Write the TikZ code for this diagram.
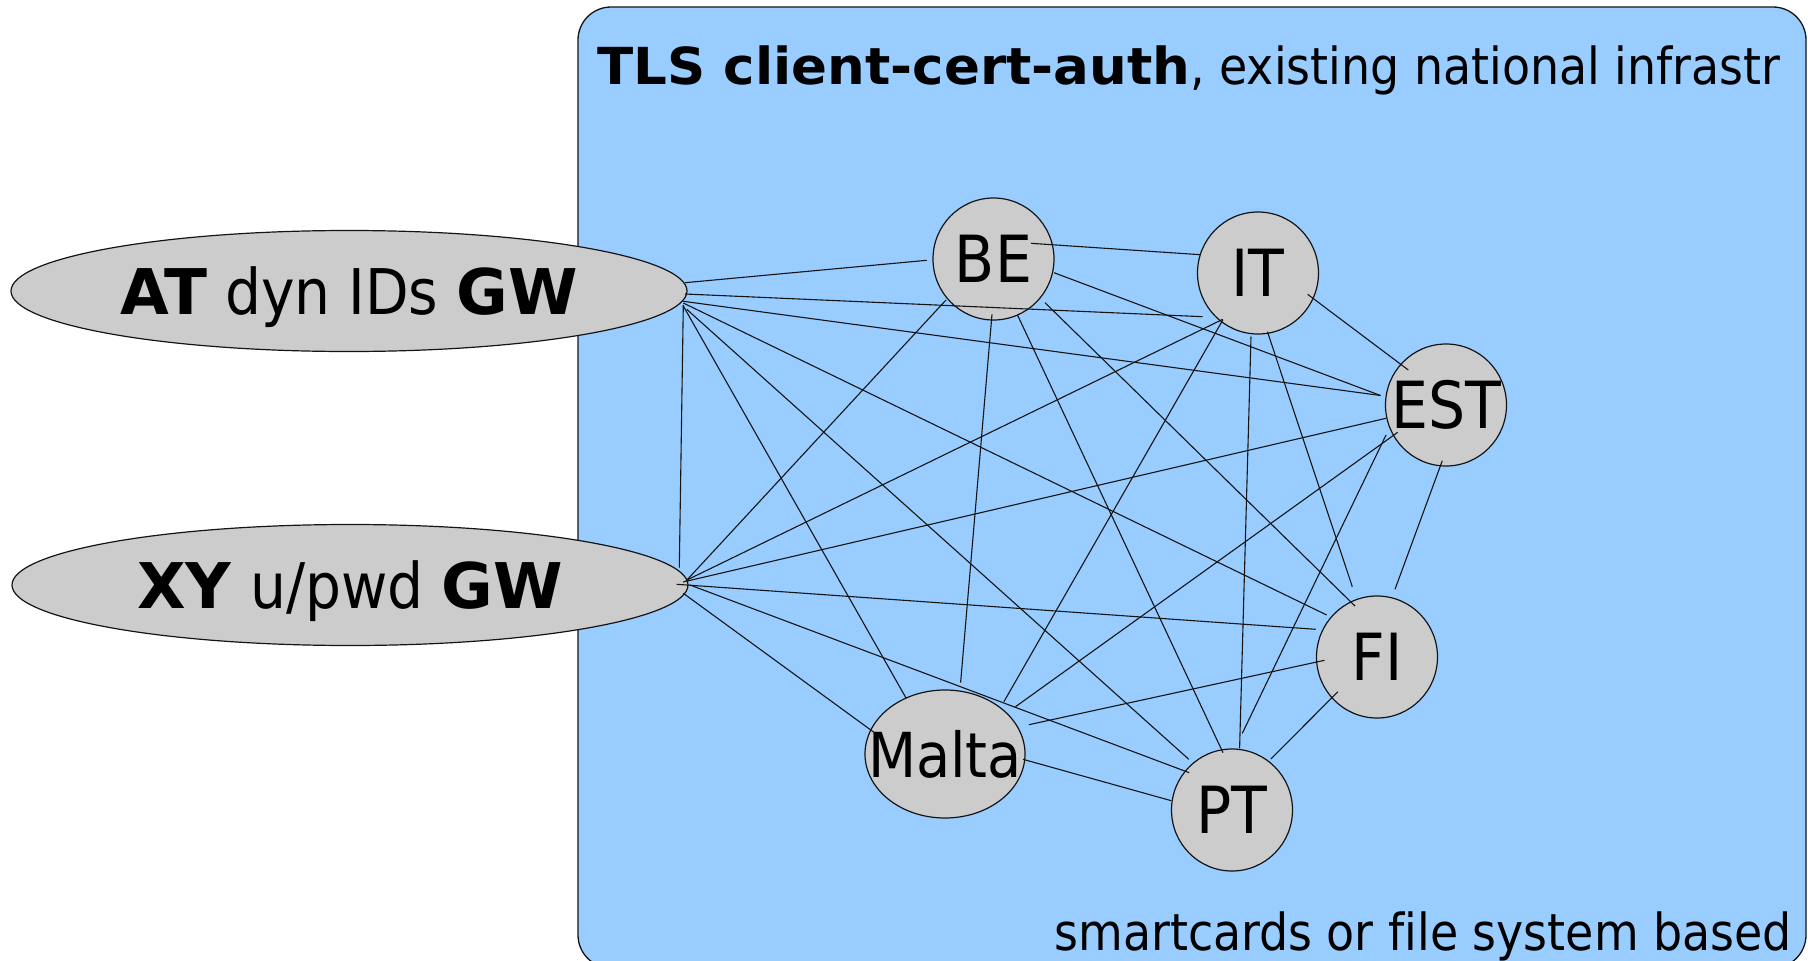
\documentclass[tikz,border=0pt]{standalone}
\usepackage{fontspec}
\setmainfont{DejaVu Sans Condensed}[BoldFont={DejaVu Sans Bold}, Ligatures=NoCommon]
\newfontfamily\titlebf{DejaVu Sans Bold}[FakeStretch=1.04]
\usetikzlibrary{shapes.geometric}
\definecolor{paneblue}{RGB}{153,204,255}
\definecolor{nodegray}{RGB}{204,204,204}
\definecolor{inkline}{RGB}{20,20,20}
% label of zero width, so the ellipse keeps its given size
\newcommand{\lbl}[1]{\makebox[0pt][c]{#1}}
\begin{document}
\begin{tikzpicture}[x=1pt,y=-1pt,
  pane/.style={draw=inkline, line width=1.3pt, fill=paneblue, rounded corners=33pt},
  gw/.style={ellipse, draw=inkline, line width=1.2pt, fill=nodegray,
    minimum width=676pt, minimum height=121pt, inner sep=0pt,
    text height=47pt, text depth=0pt, font=\fontsize{63}{70}\selectfont},
  land/.style={ellipse, draw=inkline, line width=1.2pt, fill=nodegray,
    minimum width=121pt, minimum height=122pt, inner sep=0pt,
    text height=47pt, text depth=0pt, font=\fontsize{65}{70}\selectfont},
  caption/.style={inner sep=0pt, font=\fontsize{51}{60}\selectfont},
  link/.style={draw=inkline, line width=1.1pt}]
\useasboundingbox (0,0) rectangle (1808,961);

% trust domain pane
\path[pane] (578,7) rectangle (1806,968);
\node[caption, anchor=base west] (title) at (597,84)
  {{\titlebf TLS client-cert-auth}, existing national infrastr};
\node[caption, anchor=base east] (foot) at (1792,950)
  {smartcards or file system based};

% gateways
\node[gw] (AT) at (349,291) {\lbl{\textbf{AT} dyn IDs \textbf{GW}}};
\node[gw] (XY) at (350,585) {\lbl{\textbf{XY} u/pwd \textbf{GW}}};

% national nodes
\node[land] (BE)  at (993.5,259) {\lbl{BE}};
\node[land] (IT)  at (1258,273) {\lbl{IT}};
\node[land] (EST) at (1446,405) {\lbl{EST}};
\node[land] (FI)  at (1377,657) {\lbl{FI}};
\node[land] (PT)  at (1232,810) {\lbl{PT}};
\node[land, minimum width=160pt, minimum height=128pt,
  font=\fontsize{62}{70}\selectfont] (Malta) at (945,754) {\lbl{Malta}};

% full mesh of links
\draw[link] ([shift={(336,-8.3)}]AT.center) -- ([shift={(-66.7,1.3)}]BE.center);
\draw[link] ([shift={(336,3)}]AT.center) -- ([shift={(-55.3,43.7)}]IT.center);
\draw[link] ([shift={(334.3,10.3)}]AT.center) -- ([shift={(-65.5,-9.5)}]EST.center);
\draw[link] ([shift={(334.3,12)}]AT.center) -- ([shift={(-50.3,-42)}]FI.center);
\draw[link] ([shift={(337.7,18.3)}]AT.center) -- ([shift={(-43.2,-50.7)}]PT.center);
\draw[link] ([shift={(334.3,15)}]AT.center) -- ([shift={(-38.8,-55.7)}]Malta.center);
\draw[link] ([shift={(334.3,14)}]AT.center) -- ([shift={(329.3,-17.3)}]XY.center);

\draw[link] ([shift={(336,-4)}]XY.center) -- ([shift={(-47.5,41)}]BE.center);
\draw[link] ([shift={(338,-5.5)}]XY.center) -- ([shift={(-35.2,46.3)}]IT.center);
\draw[link] ([shift={(333,-3)}]XY.center) -- ([shift={(-60,13.3)}]EST.center);
\draw[link] ([shift={(326.7,-0.7)}]XY.center) -- ([shift={(-61.3,-27.7)}]FI.center);
\draw[link] ([shift={(340,0)}]XY.center) -- ([shift={(-42.8,-37.3)}]PT.center);
\draw[link] ([shift={(333.3,8.3)}]XY.center) -- ([shift={(-70.5,-21.3)}]Malta.center);

\draw[link] ([shift={(37.3,-15.7)}]BE.center) -- ([shift={(-57.6,-18.3)}]IT.center);
\draw[link] ([shift={(60.5,13.7)}]BE.center) -- ([shift={(-65.5,-9.5)}]EST.center);
\draw[link] ([shift={(51.5,43.7)}]BE.center) -- ([shift={(-22,-51)}]FI.center);
\draw[link] ([shift={(24,56)}]BE.center) -- ([shift={(-9,-57.3)}]PT.center);
\draw[link] ([shift={(-1.5,55.3)}]BE.center) -- ([shift={(15.6,-71.3)}]Malta.center);

\draw[link] ([shift={(49.6,21.3)}]IT.center) -- ([shift={(-37.7,-35)}]EST.center);
\draw[link] ([shift={(9.4,58.7)}]IT.center) -- ([shift={(-24.7,-70.3)}]FI.center);
\draw[link] ([shift={(-7,63.7)}]IT.center) -- ([shift={(7.6,-61.7)}]PT.center);
\draw[link] ([shift={(-35.2,47)}]IT.center) -- ([shift={(58.9,-52.3)}]Malta.center);

\draw[link] ([shift={(-3.7,55.7)}]EST.center) -- ([shift={(18,-67.7)}]FI.center);
\draw[link] ([shift={(-60,30)}]EST.center) -- ([shift={(10.3,-76.7)}]PT.center);
\draw[link] ([shift={(-48.3,27.3)}]EST.center) -- ([shift={(70.5,-47.3)}]Malta.center);

\draw[link] ([shift={(-39.1,34.7)}]FI.center) -- ([shift={(38.9,-51)}]PT.center);
\draw[link] ([shift={(-52.5,3.3)}]FI.center) -- ([shift={(83.9,-29.3)}]Malta.center);

\draw[link] ([shift={(-60.7,-9.3)}]PT.center) -- ([shift={(78,5.3)}]Malta.center);
\end{tikzpicture}
\end{document}
